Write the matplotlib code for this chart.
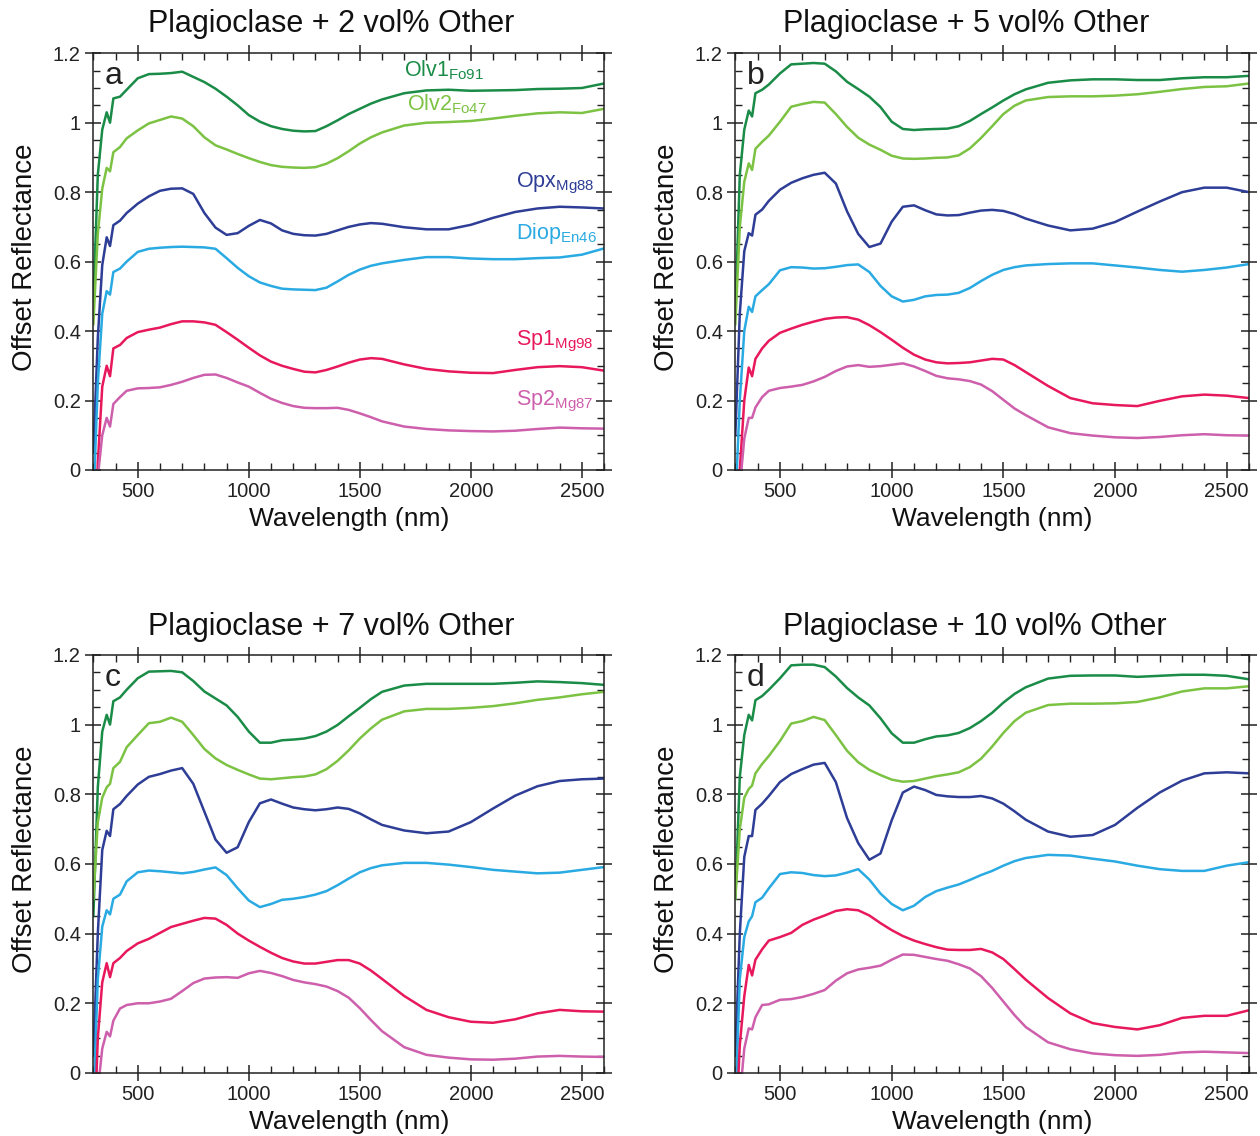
import matplotlib
matplotlib.use('Agg')
import matplotlib.pyplot as plt
from matplotlib.ticker import MultipleLocator, FuncFormatter

plt.rcParams['font.family'] = ['Liberation Sans', 'DejaVu Sans']
plt.rcParams['mathtext.fontset'] = 'custom'
plt.rcParams['mathtext.rm'] = 'Liberation Sans'
plt.rcParams['mathtext.default'] = 'regular'

# wavelength grid (nm) shared by every spectrum
WL = [300, 320, 340, 360, 375, 390, 420, 450, 500, 550, 600, 650, 700, 750, 800,
      850, 900, 950, 1000, 1050, 1100, 1150, 1200, 1250, 1300, 1350, 1400, 1450,
      1500, 1550, 1600, 1700, 1800, 1900, 2000, 2100, 2200, 2300, 2400, 2500, 2600]

# (a) plagioclase + 2 vol% other, offset reflectance
A_OLV1 = [0.48, 0.85, 0.98, 1.03, 1.00, 1.07, 1.075, 1.095, 1.128, 1.14, 1.141, 1.143, 1.147, 1.132, 1.117,
          1.098, 1.075, 1.05, 1.022, 1.003, 0.99, 0.982, 0.977, 0.975, 0.976, 0.99, 1.007, 1.025,
          1.04, 1.055, 1.067, 1.085, 1.093, 1.095, 1.092, 1.093, 1.094, 1.097, 1.098, 1.10, 1.113]
A_OLV2 = [0.42, 0.68, 0.81, 0.87, 0.86, 0.915, 0.93, 0.955, 0.978, 0.998, 1.008, 1.018, 1.012, 0.99, 0.958,
          0.935, 0.923, 0.91, 0.898, 0.887, 0.878, 0.873, 0.871, 0.87, 0.872, 0.882, 0.898, 0.918,
          0.94, 0.958, 0.972, 0.992, 1.0, 1.002, 1.005, 1.012, 1.02, 1.027, 1.03, 1.028, 1.04]
A_OPX = [0.05, 0.38, 0.59, 0.67, 0.645, 0.705, 0.718, 0.74, 0.767, 0.788, 0.804, 0.81, 0.811, 0.795, 0.74,
         0.698, 0.677, 0.682, 0.703, 0.72, 0.71, 0.69, 0.68, 0.676, 0.675, 0.68, 0.69, 0.70,
         0.707, 0.711, 0.709, 0.699, 0.693, 0.693, 0.706, 0.726, 0.743, 0.753, 0.758, 0.756, 0.753]
A_DIOP = [-0.1, 0.25, 0.45, 0.515, 0.505, 0.57, 0.58, 0.60, 0.628, 0.637, 0.64, 0.642, 0.643, 0.642, 0.641,
          0.637, 0.61, 0.582, 0.558, 0.54, 0.53, 0.522, 0.52, 0.519, 0.518, 0.525, 0.543, 0.562,
          0.577, 0.588, 0.595, 0.605, 0.613, 0.613, 0.609, 0.607, 0.607, 0.61, 0.612, 0.62, 0.638]
A_SP1 = [-0.3, 0.02, 0.24, 0.30, 0.27, 0.35, 0.36, 0.38, 0.397, 0.404, 0.41, 0.42, 0.428, 0.428, 0.425,
         0.418, 0.397, 0.375, 0.352, 0.33, 0.312, 0.30, 0.291, 0.283, 0.281, 0.288, 0.298, 0.309,
         0.318, 0.322, 0.32, 0.304, 0.291, 0.284, 0.28, 0.279, 0.288, 0.296, 0.299, 0.296, 0.286]
A_SP2 = [-0.35, -0.02, 0.10, 0.15, 0.125, 0.19, 0.21, 0.228, 0.235, 0.236, 0.238, 0.245, 0.254, 0.265, 0.274,
         0.275, 0.265, 0.252, 0.24, 0.222, 0.205, 0.193, 0.184, 0.179, 0.178, 0.178, 0.179, 0.173,
         0.163, 0.152, 0.14, 0.125, 0.118, 0.114, 0.112, 0.111, 0.113, 0.118, 0.122, 0.12, 0.119]

# (b) plagioclase + 5 vol% other
B_OLV1 = [0.45, 0.85, 0.98, 1.035, 1.018, 1.085, 1.095, 1.11, 1.142, 1.168, 1.17, 1.172, 1.17, 1.148, 1.118,
          1.097, 1.075, 1.045, 1.003, 0.982, 0.979, 0.981, 0.982, 0.983, 0.99, 1.005, 1.025, 1.044,
          1.064, 1.082, 1.096, 1.115, 1.122, 1.125, 1.125, 1.123, 1.123, 1.128, 1.131, 1.131, 1.135]
B_OLV2 = [0.42, 0.70, 0.83, 0.883, 0.864, 0.925, 0.945, 0.963, 1.003, 1.046, 1.054, 1.06, 1.058, 1.025, 0.988,
          0.957, 0.937, 0.922, 0.905, 0.897, 0.896, 0.897, 0.899, 0.90, 0.906, 0.926, 0.956, 0.99,
          1.025, 1.049, 1.064, 1.074, 1.076, 1.076, 1.078, 1.082, 1.089, 1.097, 1.103, 1.105, 1.113]
B_OPX = [0.10, 0.45, 0.63, 0.682, 0.675, 0.735, 0.75, 0.775, 0.807, 0.827, 0.84, 0.85, 0.856, 0.825, 0.745,
         0.68, 0.642, 0.652, 0.715, 0.758, 0.762, 0.748, 0.736, 0.733, 0.734, 0.741, 0.747, 0.749,
         0.746, 0.737, 0.724, 0.704, 0.69, 0.695, 0.714, 0.744, 0.773, 0.80, 0.813, 0.813, 0.80]
B_DIOP = [-0.1, 0.20, 0.40, 0.47, 0.455, 0.50, 0.518, 0.535, 0.575, 0.584, 0.583, 0.58, 0.581, 0.585, 0.59,
          0.592, 0.57, 0.53, 0.50, 0.485, 0.49, 0.50, 0.504, 0.505, 0.51, 0.524, 0.544, 0.562,
          0.576, 0.584, 0.589, 0.593, 0.595, 0.595, 0.589, 0.583, 0.576, 0.571, 0.576, 0.583, 0.593]
B_SP1 = [-0.3, 0.0, 0.20, 0.295, 0.27, 0.32, 0.35, 0.372, 0.395, 0.407, 0.418, 0.427, 0.435, 0.439, 0.44,
         0.433, 0.417, 0.397, 0.375, 0.352, 0.332, 0.318, 0.31, 0.307, 0.308, 0.31, 0.315, 0.32,
         0.318, 0.302, 0.282, 0.242, 0.207, 0.192, 0.187, 0.184, 0.199, 0.212, 0.217, 0.214, 0.207]
B_SP2 = [-0.35, -0.05, 0.09, 0.15, 0.15, 0.18, 0.21, 0.228, 0.236, 0.24, 0.245, 0.255, 0.268, 0.285, 0.298,
         0.302, 0.297, 0.299, 0.303, 0.307, 0.298, 0.285, 0.271, 0.264, 0.261, 0.256, 0.246, 0.227,
         0.202, 0.177, 0.158, 0.123, 0.106, 0.099, 0.094, 0.092, 0.095, 0.10, 0.103, 0.10, 0.099]

# (c) plagioclase + 7 vol% other
C_OLV1 = [0.45, 0.82, 0.98, 1.028, 1.0, 1.067, 1.078, 1.10, 1.133, 1.152, 1.153, 1.154, 1.15, 1.125, 1.095,
          1.075, 1.055, 1.022, 0.98, 0.948, 0.948, 0.955, 0.957, 0.96, 0.967, 0.98, 0.999, 1.024,
          1.048, 1.073, 1.094, 1.112, 1.117, 1.117, 1.117, 1.117, 1.12, 1.124, 1.122, 1.119, 1.114]
C_OLV2 = [0.50, 0.72, 0.79, 0.82, 0.83, 0.875, 0.893, 0.935, 0.97, 1.004, 1.008, 1.02, 1.008, 0.97, 0.93,
          0.903, 0.884, 0.87, 0.857, 0.845, 0.843, 0.846, 0.849, 0.851, 0.857, 0.872, 0.896, 0.926,
          0.96, 0.989, 1.014, 1.038, 1.045, 1.045, 1.048, 1.053, 1.061, 1.071, 1.078, 1.087, 1.094]
C_OPX = [0.05, 0.40, 0.64, 0.695, 0.68, 0.757, 0.772, 0.795, 0.828, 0.85, 0.858, 0.868, 0.875, 0.83, 0.75,
         0.67, 0.632, 0.648, 0.72, 0.774, 0.785, 0.773, 0.762, 0.757, 0.754, 0.757, 0.762, 0.758,
         0.745, 0.728, 0.712, 0.696, 0.688, 0.693, 0.72, 0.759, 0.796, 0.823, 0.838, 0.843, 0.845]
C_DIOP = [-0.1, 0.27, 0.42, 0.467, 0.455, 0.50, 0.512, 0.55, 0.576, 0.581, 0.579, 0.576, 0.573, 0.577, 0.584,
          0.59, 0.568, 0.53, 0.495, 0.476, 0.485, 0.497, 0.50, 0.505, 0.512, 0.522, 0.539, 0.558,
          0.576, 0.588, 0.596, 0.603, 0.603, 0.598, 0.591, 0.583, 0.578, 0.573, 0.575, 0.583, 0.591]
C_SP1 = [-0.25, 0.10, 0.26, 0.315, 0.275, 0.315, 0.33, 0.35, 0.372, 0.385, 0.402, 0.419, 0.428, 0.437, 0.445,
         0.443, 0.425, 0.40, 0.38, 0.362, 0.345, 0.33, 0.32, 0.314, 0.314, 0.319, 0.324, 0.324,
         0.314, 0.294, 0.27, 0.221, 0.181, 0.16, 0.147, 0.144, 0.154, 0.171, 0.181, 0.177, 0.176]
C_SP2 = [-0.35, -0.05, 0.07, 0.118, 0.105, 0.15, 0.185, 0.195, 0.20, 0.20, 0.205, 0.213, 0.235, 0.258, 0.271,
         0.274, 0.275, 0.273, 0.286, 0.293, 0.287, 0.278, 0.267, 0.26, 0.255, 0.248, 0.235, 0.216,
         0.186, 0.152, 0.12, 0.074, 0.052, 0.044, 0.039, 0.038, 0.041, 0.047, 0.049, 0.047, 0.046]

# (d) plagioclase + 10 vol% other
D_OLV1 = [0.50, 0.85, 0.97, 1.028, 1.012, 1.07, 1.082, 1.10, 1.133, 1.17, 1.172, 1.172, 1.165, 1.138, 1.105,
          1.078, 1.055, 1.018, 0.975, 0.948, 0.948, 0.958, 0.966, 0.969, 0.976, 0.99, 1.01, 1.034,
          1.063, 1.088, 1.107, 1.132, 1.14, 1.141, 1.141, 1.137, 1.14, 1.143, 1.143, 1.14, 1.13]
D_OLV2 = [0.50, 0.70, 0.79, 0.815, 0.825, 0.86, 0.887, 0.91, 0.953, 1.003, 1.01, 1.022, 1.013, 0.97, 0.925,
          0.892, 0.87, 0.855, 0.842, 0.836, 0.838, 0.845, 0.852, 0.857, 0.863, 0.878, 0.902, 0.937,
          0.976, 1.01, 1.034, 1.056, 1.06, 1.06, 1.061, 1.065, 1.078, 1.095, 1.104, 1.104, 1.11]
D_OPX = [0.05, 0.40, 0.62, 0.68, 0.68, 0.755, 0.773, 0.795, 0.835, 0.858, 0.872, 0.885, 0.89, 0.835, 0.732,
         0.66, 0.612, 0.63, 0.725, 0.805, 0.822, 0.812, 0.798, 0.794, 0.792, 0.792, 0.795, 0.788,
         0.773, 0.751, 0.727, 0.693, 0.678, 0.683, 0.712, 0.761, 0.805, 0.839, 0.86, 0.863, 0.86]
D_DIOP = [-0.1, 0.27, 0.39, 0.435, 0.45, 0.49, 0.503, 0.53, 0.571, 0.576, 0.574, 0.568, 0.565, 0.567, 0.575,
          0.585, 0.555, 0.515, 0.485, 0.467, 0.48, 0.505, 0.522, 0.532, 0.541, 0.554, 0.568, 0.58,
          0.595, 0.608, 0.617, 0.626, 0.624, 0.615, 0.607, 0.595, 0.585, 0.58, 0.58, 0.595, 0.605]
D_SP1 = [-0.2, 0.08, 0.22, 0.31, 0.28, 0.325, 0.355, 0.38, 0.39, 0.402, 0.425, 0.44, 0.452, 0.465, 0.47,
         0.467, 0.452, 0.43, 0.41, 0.393, 0.38, 0.37, 0.361, 0.354, 0.353, 0.353, 0.356, 0.346,
         0.327, 0.298, 0.268, 0.215, 0.171, 0.143, 0.132, 0.125, 0.137, 0.158, 0.164, 0.164, 0.18]
D_SP2 = [-0.35, -0.07, 0.07, 0.128, 0.125, 0.16, 0.195, 0.197, 0.21, 0.212, 0.218, 0.227, 0.238, 0.265, 0.286,
         0.297, 0.302, 0.308, 0.325, 0.34, 0.339, 0.333, 0.327, 0.322, 0.312, 0.30, 0.278, 0.244,
         0.205, 0.166, 0.132, 0.088, 0.068, 0.056, 0.051, 0.049, 0.052, 0.059, 0.061, 0.059, 0.057]

TITLES = ['Plagioclase + 2 vol% Other', 'Plagioclase + 5 vol% Other',
          'Plagioclase + 7 vol% Other', 'Plagioclase + 10 vol% Other']
LETTERS = ['a', 'b', 'c', 'd']
NAMES = ['Olv1', 'Olv2', 'Opx', 'Diop', 'Sp1', 'Sp2']
SUBS = ['Fo91', 'Fo47', 'Mg88', 'En46', 'Mg98', 'Mg87']
COLORS = ['#1a8c47', '#7cc243', '#2e3d96', '#2aaae2', '#e8185c', '#cd5fac']

panels = [
    [A_OLV1, A_OLV2, A_OPX, A_DIOP, A_SP1, A_SP2],
    [B_OLV1, B_OLV2, B_OPX, B_DIOP, B_SP1, B_SP2],
    [C_OLV1, C_OLV2, C_OPX, C_DIOP, C_SP1, C_SP2],
    [D_OLV1, D_OLV2, D_OPX, D_DIOP, D_SP1, D_SP2],
]

# axes boxes in figure fractions: [left, bottom, width, height]
boxes = [
    [0.0741, 0.5863, 0.4053, 0.3668],
    [0.5836, 0.5863, 0.4077, 0.3668],
    [0.0741, 0.0555, 0.4053, 0.3680],
    [0.5836, 0.0555, 0.4077, 0.3680],
]
title_pos = [(0.2627, 0.9790), (0.7667, 0.9790), (0.2627, 0.4482), (0.7734, 0.4482)]

# label anchors for panel a: (wavelength, reflectance)
label_xy = [(1700, 1.15), (1712, 1.052), (2203, 0.825), (2203, 0.681), (2203, 0.37), (2203, 0.198)]

fig = plt.figure(figsize=(12.6, 11.36), dpi=100)

for i, spectra in enumerate(panels):
    ax = fig.add_axes(boxes[i])
    for ys, c in zip(spectra, COLORS):
        ax.plot(WL, ys, color=c, lw=1.8, solid_joinstyle='round')

    ax.set_xlim(300, 2600)
    ax.set_ylim(0, 1.2)
    ax.xaxis.set_major_locator(MultipleLocator(500))
    ax.xaxis.set_minor_locator(MultipleLocator(100))
    ax.yaxis.set_major_locator(MultipleLocator(0.2))
    ax.yaxis.set_minor_locator(MultipleLocator(0.05))
    ax.yaxis.set_major_formatter(FuncFormatter(lambda v, p: '%g' % round(v, 2)))
    ax.tick_params(which='major', direction='inout', length=12, width=1.1,
                   top=True, right=True, labelsize=14.5, colors='#222222', pad=3)
    ax.tick_params(which='minor', direction='in', length=5, width=1.0,
                   top=True, right=True, colors='#222222')
    for sp in ax.spines.values():
        sp.set_linewidth(1.1)
        sp.set_color('#222222')

    ax.set_xlabel('Wavelength (nm)', fontsize=19, color='#111111')
    ax.set_ylabel('Offset Reflectance', fontsize=20, color='#111111')
    ax.xaxis.set_label_coords(0.5, -0.088)
    ax.yaxis.set_label_coords(-0.108, 0.51)

    ax.text(0.022, 0.945, LETTERS[i], transform=ax.transAxes, fontsize=23,
            ha='left', va='center', color='#222222')
    fig.text(title_pos[i][0], title_pos[i][1], TITLES[i], fontsize=22,
             ha='center', va='center', color='#111111')

    if i == 0:
        for (x, y), n, s, c in zip(label_xy, NAMES, SUBS, COLORS):
            ax.text(x, y, n + '$_{' + s + '}$', color=c, fontsize=15.5,
                    ha='left', va='center')

fig.savefig('out.png', dpi=100)
